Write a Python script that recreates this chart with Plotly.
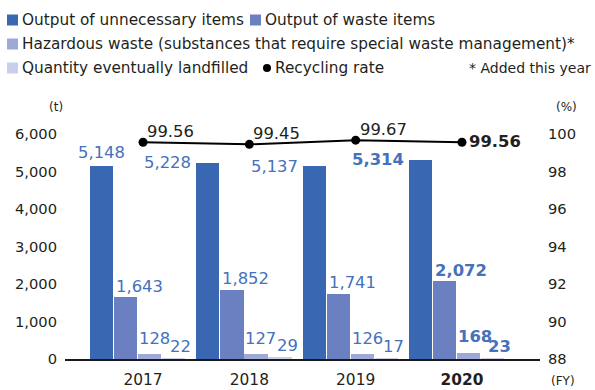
import plotly.graph_objects as go

# ---- data -------------------------------------------------------------
years = ["2017", "2018", "2019", "2020"]
unnecessary = [5148, 5228, 5137, 5314]          # t
waste = [1643, 1852, 1741, 2072]                # t
hazardous = [128, 127, 126, 168]                # t
landfilled = [22, 29, 17, 23]                   # t
recycling_rate = [99.56, 99.45, 99.67, 99.56]   # %

series_names = [
    "Output of unnecessary items",
    "Output of waste items",
    "Hazardous waste (substances that require special waste management)*",
    "Quantity eventually landfilled",
]
line_name = "Recycling rate"
note_text = "* Added this year"

# ---- styling ----------------------------------------------------------
W, H = 595, 390
ML, MR, MT, MB = 65, 55, 134, 31
PW, PH = W - ML - MR, H - MT - MB

FONT = "DejaVu Sans"
TEXT = "#231f20"
LABEL_BLUE = "#4571bd"
bar_colors = ["#3a67b1", "#6b80c0", "#9da9d7", "#c9cfeb"]

OFF0 = -0.5     # left edge of first bar relative to the year position
STEP = 0.2266   # spacing between bars inside a year group
BW = 0.219      # bar width (x units)

x = list(range(len(years)))
series = [unnecessary, waste, hazardous, landfilled]


def px_x(px):
    return (px - ML) / PW


def px_y(py):
    return (MT + PH - py) / PH


def fmt(v, i):
    s = f"{v:,}"
    return f"<b>{s}</b>" if i == len(years) - 1 else s


fig = go.Figure()

for j, (name, vals) in enumerate(zip(series_names, series)):
    fig.add_trace(go.Bar(
        x=x, y=vals, name=name,
        offset=OFF0 + j * STEP, width=BW,
        marker=dict(color=bar_colors[j], line=dict(width=0)),
        showlegend=False, hoverinfo="y",
    ))

fig.add_trace(go.Scatter(
    x=x, y=recycling_rate, yaxis="y2", name=line_name,
    mode="lines+markers",
    line=dict(color="#000000", width=2),
    marker=dict(color="#000000", size=9),
    showlegend=False, cliponaxis=False,
))

ann = []
lab_font = dict(family=FONT, size=16.4, color=LABEL_BLUE)

# value labels for the bars
for i, v in enumerate(unnecessary):
    if i == 0:
        ann.append(dict(x=i + OFF0 + BW / 2, y=v, text=fmt(v, i), xanchor="center",
                        yanchor="middle", yshift=13, showarrow=False, font=lab_font))
    else:
        ann.append(dict(x=i + OFF0, y=v, text=fmt(v, i), xanchor="right",
                        yanchor="middle", xshift=-3, showarrow=False, font=lab_font))
for i, v in enumerate(waste):
    ann.append(dict(x=i + OFF0 + STEP, y=v, text=fmt(v, i), xanchor="left",
                    yanchor="middle", xshift=0, yshift=11, showarrow=False, font=lab_font))
for i, v in enumerate(hazardous):
    ann.append(dict(x=i + OFF0 + 2 * STEP, y=v, text=fmt(v, i), xanchor="left",
                    yanchor="middle", xshift=-1, yshift=16, showarrow=False, font=lab_font))
for i, v in enumerate(landfilled):
    ann.append(dict(x=i + OFF0 + 3 * STEP + BW / 2, y=v, text=fmt(v, i), xanchor="center",
                    yanchor="middle", xshift=7, yshift=12, showarrow=False, font=lab_font))

# recycling rate labels
for i, v in enumerate(recycling_rate):
    last = i == len(years) - 1
    ann.append(dict(x=i, y=v, yref="y2", text=(f"<b>{v:.2f}</b>" if last else f"{v:.2f}"),
                    xanchor="left", yanchor="middle",
                    xshift=5 if last else 2, yshift=1 if last else 11,
                    showarrow=False, font=dict(family=FONT, size=16.4, color=TEXT)))

# unit labels
unit_font = dict(family=FONT, size=12, color=TEXT)
ann += [
    dict(xref="paper", yref="paper", x=px_x(56), y=px_y(107), text="(t)",
         showarrow=False, xanchor="center", yanchor="middle", font=unit_font),
    dict(xref="paper", yref="paper", x=px_x(566), y=px_y(107), text="(%)",
         showarrow=False, xanchor="center", yanchor="middle", font=unit_font),
    dict(xref="paper", yref="paper", x=px_x(563), y=px_y(381), text="(FY)",
         showarrow=False, xanchor="center", yanchor="middle", font=unit_font),
]

# legend drawn as keys + text at the top of the figure
leg_font = dict(family=FONT, size=15.3, color=TEXT)
legend_items = [
    (series_names[0], "sq", bar_colors[0], 7, 20),
    (series_names[1], "sq", bar_colors[1], 250, 20),
    (series_names[2], "sq", bar_colors[2], 7, 44),
    (series_names[3], "sq", bar_colors[3], 7, 68),
    (line_name, "dot", "#000000", 263, 68),
]
shapes = []
for label, kind, color, kx, ky in legend_items:
    if kind == "sq":
        shapes.append(dict(type="rect", xref="paper", yref="paper",
                           x0=px_x(kx), x1=px_x(kx + 11), y0=px_y(ky - 5.5), y1=px_y(ky + 5.5),
                           fillcolor=color, line=dict(width=0)))
        tx = kx + 13
    else:
        shapes.append(dict(type="circle", xref="paper", yref="paper",
                           x0=px_x(kx), x1=px_x(kx + 8), y0=px_y(ky - 4), y1=px_y(ky + 4),
                           fillcolor=color, line=dict(width=0)))
        tx = kx + 10
    ann.append(dict(xref="paper", yref="paper", x=px_x(tx), y=px_y(ky), text=label,
                    xanchor="left", yanchor="middle", showarrow=False, font=leg_font))
ann.append(dict(xref="paper", yref="paper", x=px_x(593), y=px_y(68), text=note_text,
                xanchor="right", yanchor="middle", showarrow=False,
                font=dict(family=FONT, size=14, color=TEXT)))

tick_text = [f"<b>{y}</b>" if k == len(years) - 1 else y for k, y in enumerate(years)]

fig.update_layout(
    template="none",
    width=W, height=H,
    margin=dict(l=ML, r=MR, t=MT, b=MB, pad=0, autoexpand=False),
    paper_bgcolor="white", plot_bgcolor="white",
    barmode="overlay", bargap=0,
    font=dict(family=FONT, color=TEXT),
    xaxis=dict(range=[-0.734, 3.734], tickvals=x, ticktext=tick_text, automargin=False,
               showgrid=False, zeroline=False, showline=True, linecolor="#1a1a1a",
               linewidth=1.5, ticks="", ticklabelstandoff=6,
               tickfont=dict(family=FONT, size=15.4, color=TEXT)),
    yaxis=dict(range=[0, 6000], tickvals=[0, 1000, 2000, 3000, 4000, 5000, 6000],
               tickformat=",", showgrid=False, zeroline=False, showline=False, ticks="",
               automargin=False, ticklabelstandoff=7,
               tickfont=dict(family=FONT, size=14.7, color=TEXT)),
    yaxis2=dict(range=[88, 100], tickvals=[88, 90, 92, 94, 96, 98, 100], overlaying="y",
                side="right", showgrid=False, zeroline=False, showline=False, ticks="",
                automargin=False, ticklabelstandoff=7,
                tickfont=dict(family=FONT, size=14.7, color=TEXT)),
    annotations=ann,
    shapes=shapes,
)

fig.write_html("out.html")
